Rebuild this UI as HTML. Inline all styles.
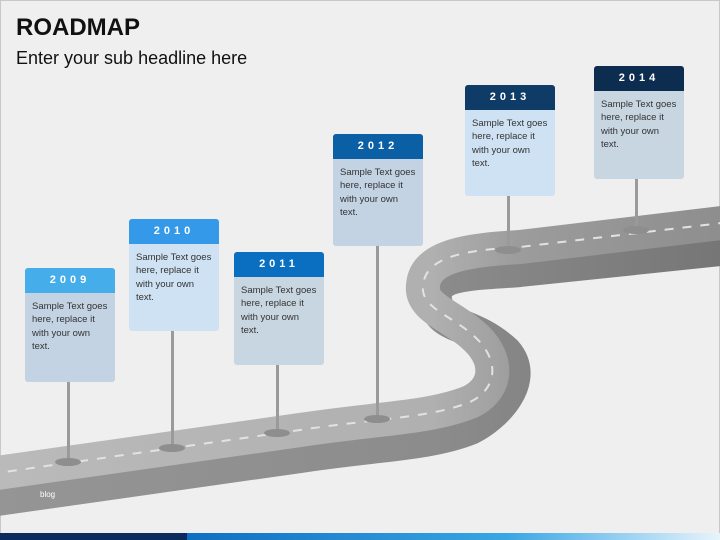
<!DOCTYPE html>
<html><head><style>
body{margin:0;width:720px;height:540px;overflow:hidden;background:#efefef;font-family:"Liberation Sans",sans-serif;}
.wrap{position:absolute;left:0;top:0;width:718px;height:538px;border:1px solid #c8c8c8;}
h1{position:absolute;left:16px;top:14px;margin:0;font-size:24px;font-weight:bold;color:#111;}
.sub{position:absolute;left:16px;top:48px;font-size:18px;color:#111;}
.box{position:absolute;width:90px;border-radius:3px;overflow:hidden;}
.hd{height:25px;line-height:25px;text-align:center;color:#fff;font-weight:bold;font-size:11px;letter-spacing:4px;}
.bd{padding:7px 7px;font-size:9.5px;line-height:13.3px;color:#333;}
</style></head><body>
<div class="wrap"></div>
<h1>ROADMAP</h1>
<div class="sub">Enter your sub headline here</div>
<svg width="720" height="540" style="position:absolute;left:0;top:0">
<defs>
<linearGradient id="bar" x1="0" x2="1"><stop offset="0" stop-color="#0e6fc2"/><stop offset="0.6" stop-color="#39a6e4"/><stop offset="1" stop-color="#e8f4fb"/></linearGradient>
<linearGradient id="top" gradientUnits="userSpaceOnUse" x1="0" y1="0" x2="720" y2="0"><stop offset="0" stop-color="#bababa"/><stop offset="0.6" stop-color="#b0b0b0"/><stop offset="0.72" stop-color="#9c9c9c"/><stop offset="1" stop-color="#8e8e8e"/></linearGradient>
<linearGradient id="side" gradientUnits="userSpaceOnUse" x1="0" y1="0" x2="720" y2="0"><stop offset="0" stop-color="#959595"/><stop offset="0.6" stop-color="#8c8c8c"/><stop offset="1" stop-color="#767676"/></linearGradient>
</defs>
<g stroke-linecap="butt" fill="none">
<path d="M-10,500 L300,456 C380,444 430,444 470,428 C495,416 530,380 505,352 C470,320 440,330 435,300 C432,272 470,274 520,270 L730,248" stroke="url(#side)" stroke-width="34"/>
<path d="M-10,474 L300,430 C380,418 430,418 470,402 C495,390 500,365 480,342 C455,315 420,310 423,285 C426,255 470,250 520,247 L730,222" stroke="url(#top)" stroke-width="34"/>
<path d="M-10,474 L300,430 C380,418 430,418 470,402 C495,390 500,365 480,342 C455,315 420,310 423,285 C426,255 470,250 520,247 L730,222" stroke="#e2e2e2" stroke-width="2" stroke-dasharray="9,9"/>
</g>
<g fill="#9a9a9a">
<rect x="67" y="382" width="3" height="80"/><ellipse cx="68" cy="462" rx="13" ry="4" fill="#8e8e8e"/>
<rect x="171" y="331" width="3" height="117"/><ellipse cx="172" cy="448" rx="13" ry="4" fill="#8e8e8e"/>
<rect x="276" y="365" width="3" height="68"/><ellipse cx="277" cy="433" rx="13" ry="4" fill="#8e8e8e"/>
<rect x="376" y="246" width="3" height="173"/><ellipse cx="377" cy="419" rx="13" ry="4" fill="#8e8e8e"/>
<rect x="507" y="196" width="3" height="54"/><ellipse cx="508" cy="250" rx="13" ry="4" fill="#8e8e8e"/>
<rect x="635" y="179" width="3" height="51"/><ellipse cx="636" cy="230" rx="13" ry="4" fill="#8e8e8e"/>
</g>
<text x="40" y="497" font-size="8" fill="#fff" font-family="Liberation Sans">blog</text>
<rect x="0" y="533" width="187" height="7" fill="#0b2a5e"/>
<rect x="187" y="533" width="533" height="7" fill="url(#bar)"/>
</svg>
<div class="box" style="left:25px;top:268px;height:114px;background:#c3d3e3"><div class="hd" style="background:#45aeea">2009</div><div class="bd">Sample Text goes here, replace it with your own text.</div></div>
<div class="box" style="left:129px;top:219px;height:112px;background:#cfe2f3"><div class="hd" style="background:#3399e8">2010</div><div class="bd">Sample Text goes here, replace it with your own text.</div></div>
<div class="box" style="left:234px;top:252px;height:113px;background:#c8d6e2"><div class="hd" style="background:#0a6fc0">2011</div><div class="bd">Sample Text goes here, replace it with your own text.</div></div>
<div class="box" style="left:333px;top:134px;height:112px;background:#c3d3e3"><div class="hd" style="background:#0b5fa5">2012</div><div class="bd">Sample Text goes here, replace it with your own text.</div></div>
<div class="box" style="left:465px;top:85px;height:111px;background:#cfe2f3"><div class="hd" style="background:#0f3c66">2013</div><div class="bd">Sample Text goes here, replace it with your own text.</div></div>
<div class="box" style="left:594px;top:66px;height:113px;background:#c8d6e2"><div class="hd" style="background:#0d2d50">2014</div><div class="bd">Sample Text goes here, replace it with your own text.</div></div>
</body></html>
